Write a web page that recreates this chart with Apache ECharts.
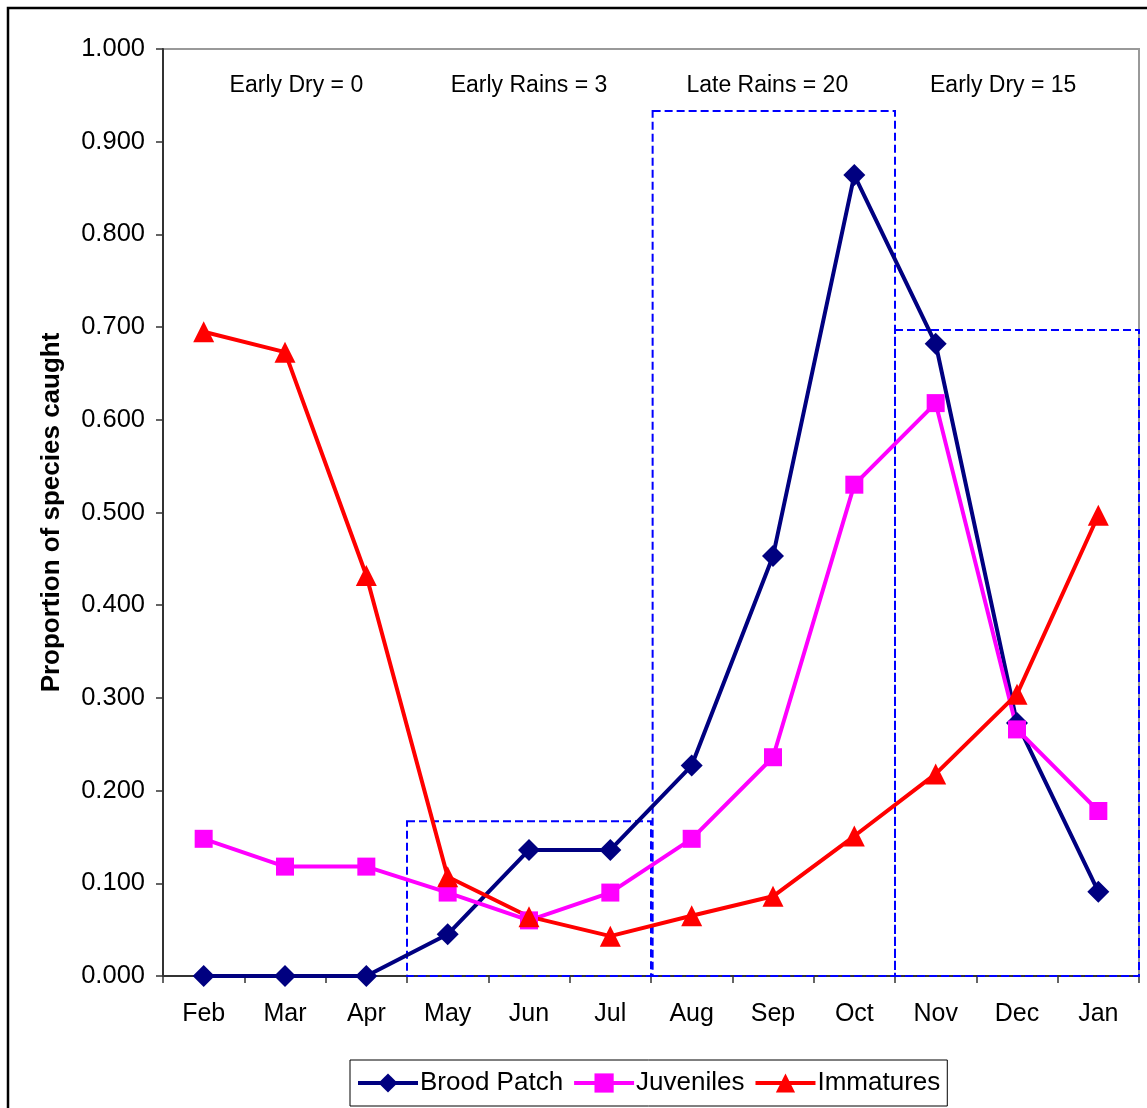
<!DOCTYPE html>
<html>
<head>
<meta charset="utf-8">
<title>Proportion of species caught by month</title>
<script src="https://cdn.jsdelivr.net/npm/echarts@6/dist/echarts.min.js"></script>
<style>
  html, body { margin: 0; padding: 0; background: #fff; }
  #chart { width: 1147px; height: 1108px; }
</style>
</head>
<body>
<div id="chart"></div>
<script>
// Monthly categories (breeding year starting in February)
const months = ['Feb', 'Mar', 'Apr', 'May', 'Jun', 'Jul', 'Aug', 'Sep', 'Oct', 'Nov', 'Dec', 'Jan'];

// Proportion of species caught in each condition
const broodPatch = [0.000, 0.000, 0.000, 0.045, 0.136, 0.136, 0.227, 0.453, 0.864, 0.682, 0.273, 0.091];
const juveniles  = [0.148, 0.118, 0.118, 0.090, 0.060, 0.090, 0.148, 0.236, 0.530, 0.618, 0.266, 0.178];
const immatures  = [0.695, 0.673, 0.432, 0.107, 0.064, 0.043, 0.065, 0.086, 0.151, 0.218, 0.304, 0.497];

// Seasonal windows: [start month boundary, end month boundary, top value]
const seasonBoxes = [
  [3, 6, 0.167],
  [6.02, 9, 0.933],
  [9, 12, 0.697]
];

// Season captions: [x position in month units, y value, text]
const seasonLabels = [
  [1.64, 0.960, 'Early Dry = 0'],
  [4.50, 0.960, 'Early Rains = 3'],
  [7.43, 0.960, 'Late Rains = 20'],
  [10.33, 0.960, 'Early Dry = 15']
];

const yTicks = { min: 0, max: 1, interval: 0.1 };

const FONT = '"Liberation Sans", Arial, sans-serif';

const chart = echarts.init(document.getElementById('chart'), null, { renderer: 'canvas' });

const lineSeries = (name, data, color, symbol, size) => ({
  name: name,
  type: 'line',
  data: data,
  xAxisIndex: 0,
  yAxisIndex: 0,
  symbol: symbol,
  symbolSize: size,
  showAllSymbol: true,
  lineStyle: { color: color, width: 4 },
  itemStyle: { color: color, borderWidth: 0 },
  emphasis: { disabled: true },
  z: 5
});

chart.setOption({
  animation: false,
  backgroundColor: '#fff',
  textStyle: { fontFamily: FONT },
  graphic: [{
    type: 'rect',
    shape: { x: 8, y: 8, width: 1180, height: 1140 },
    style: { fill: 'none', stroke: '#000', lineWidth: 2.5 },
    silent: true
  }],
  grid: {
    left: 163, right: 8, top: 49, bottom: 132,
    show: true,
    backgroundColor: '#fff',
    borderColor: '#999',
    borderWidth: 2
  },
  legend: {
    bottom: 2,
    left: 350,
    itemGap: 9,
    itemWidth: 60,
    itemHeight: 24,
    padding: [10, 7, 10, 6],
    borderColor: '#000',
    borderWidth: 1,
    lineStyle: { width: 4 },
    textStyle: { fontSize: 26, color: '#000', fontFamily: FONT, padding: [0, 0, 0, -3] },
    data: ['Brood Patch', 'Juveniles', 'Immatures']
  },
  xAxis: [{
    type: 'category',
    data: months,
    boundaryGap: true,
    axisLine: { lineStyle: { color: '#333', width: 2 } },
    axisTick: { show: true, length: 7, inside: false, lineStyle: { color: '#333', width: 1.5 } },
    axisLabel: { color: '#000', fontSize: 25, margin: 26, fontFamily: FONT },
    splitLine: { show: false }
  }, {
    type: 'value',
    min: 0,
    max: 12,
    show: false
  }],
  yAxis: {
    type: 'value',
    min: yTicks.min,
    max: yTicks.max,
    interval: yTicks.interval,
    name: 'Proportion of species caught',
    nameLocation: 'middle',
    nameGap: 98,
    nameTextStyle: { fontSize: 26, fontWeight: 'bold', color: '#000', fontFamily: FONT },
    axisLine: { show: true, lineStyle: { color: '#333', width: 2 } },
    axisTick: { show: true, length: 7, lineStyle: { color: '#333', width: 1.5 } },
    axisLabel: {
      color: '#000', fontSize: 25.5, margin: 18, fontFamily: FONT,
      formatter: v => v.toFixed(3)
    },
    splitLine: { show: false }
  },
  series: [
    {
      name: 'seasons',
      type: 'custom',
      xAxisIndex: 1,
      yAxisIndex: 0,
      data: seasonBoxes,
      silent: true,
      z: 3,
      renderItem: (params, api) => {
        const p0 = api.coord([api.value(0), api.value(2)]);
        const p1 = api.coord([api.value(1), 0]);
        return {
          type: 'rect',
          shape: { x: p0[0], y: p0[1], width: p1[0] - p0[0], height: p1[1] - p0[1] },
          style: { fill: 'none', stroke: '#0000FF', lineWidth: 2, lineDash: [8, 4] }
        };
      }
    },
    {
      name: 'seasonLabels',
      type: 'custom',
      xAxisIndex: 1,
      yAxisIndex: 0,
      data: seasonLabels,
      silent: true,
      z: 4,
      renderItem: (params, api) => {
        const p = api.coord([api.value(0), api.value(1)]);
        return {
          type: 'text',
          x: p[0],
          y: p[1],
          style: {
            text: seasonLabels[params.dataIndex][2],
            fill: '#000',
            fontSize: 23,
            fontFamily: FONT,
            align: 'center',
            verticalAlign: 'middle'
          }
        };
      }
    },
    lineSeries('Brood Patch', broodPatch, '#000080', 'diamond', 22),
    lineSeries('Juveniles', juveniles, '#FF00FF', 'rect', 18),
    lineSeries('Immatures', immatures, '#FF0000', 'triangle', 21)
  ]
});
</script>
</body>
</html>
